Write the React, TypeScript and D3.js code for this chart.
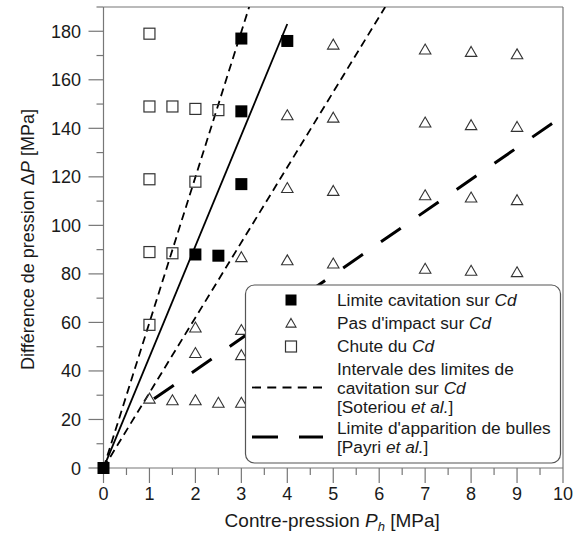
import React from "react";
import * as d3 from "d3";

// ---- data ----
const cavX = [0, 2, 2.5, 3, 3, 3, 4];
const cavY = [0, 88, 87.5, 117, 147, 177, 176];

const chuteX = [1, 1, 1.5, 2, 2.5, 1, 2, 1, 1.5, 1];
const chuteY = [179, 149, 149, 148, 147.5, 119, 118, 89, 88.5, 59];

const noImpX = [1, 1.5, 2, 2.5, 3, 2, 2, 3, 3, 3, 4, 4, 4, 5, 5, 5, 5, 7, 7, 7, 7, 8, 8, 8, 8, 9, 9, 9, 9];
const noImpY = [28.7, 28, 28, 27, 27, 47.5, 58, 46.6, 57, 87, 85.7, 115.5, 145.5, 84.4, 114.3, 144.5, 174.6, 82.2, 112.5, 142.5, 172.6, 81.4, 111.6, 141.4, 171.6, 80.8, 110.5, 140.7, 170.6];

const solidLineX = [0, 4];
const solidLineY = [0, 183];
const soteriouLowX = [0, 6.13];
const soteriouLowY = [0, 190];
const soteriouHighX = [0, 3.17];
const soteriouHighY = [0, 190];
const payriX = [1.1, 9.8];
const payriY = [28.5, 142.5];

const xTicks = [0, 1, 2, 3, 4, 5, 6, 7, 8, 9, 10];
const yTicks = [0, 20, 40, 60, 80, 100, 120, 140, 160, 180];

const W = 581;
const H = 533;
const FONT = "'Liberation Sans', Arial, sans-serif";
const AXIS = "#777";
const TXT = "#1a1a1a";

export default function App() {
  const x = d3.scaleLinear().domain([0, 10]).range([103.5, 563]);
  const y = d3.scaleLinear().domain([0, 190]).range([468, 7]);

  const line = d3
    .line<[number, number]>()
    .x((d) => x(d[0]))
    .y((d) => y(d[1]));
  const pts = (xs: number[], ys: number[]) => xs.map((v, i) => [v, ys[i]] as [number, number]);

  const xMinor = d3.range(0, 10.01, 0.5).filter((v) => Math.abs(v - Math.round(v)) > 0.01);
  const yMinor = d3.range(10, 191, 20);

  const sq = 11;
  const tri = (cx: number, cy: number, s: number) => {
    const h = s * 0.82;
    return `M${cx},${cy - h / 2 - 0.5} L${cx + s / 2},${cy + h / 2} L${cx - s / 2},${cy + h / 2} Z`;
  };

  const lx = 245.5;
  const ly = 285;
  const lw = 315;
  const lh = 178;
  const symX = 291;
  const textX = 337;

  return (
    <svg
      width={W}
      height={H}
      style={{ position: "absolute", left: 0, top: 0, background: "#fff" }}
      fontFamily={FONT}
    >
      <rect x={0} y={0} width={W} height={H} fill="#fff" />
      <defs>
        <clipPath id="plotclip">
          <rect x={x(0)} y={y(190)} width={x(10) - x(0)} height={y(0) - y(190)} />
        </clipPath>
      </defs>

      {/* frame */}
      <line x1={x(0)} x2={x(10)} y1={y(190)} y2={y(190)} stroke={AXIS} strokeWidth={1.2} />
      <line x1={x(10)} x2={x(10)} y1={y(190)} y2={y(0)} stroke={AXIS} strokeWidth={1.2} />
      <line x1={x(0)} x2={x(10)} y1={y(0)} y2={y(0)} stroke={AXIS} strokeWidth={1.2} />
      <line x1={x(0)} x2={x(0)} y1={y(190)} y2={y(0)} stroke={AXIS} strokeWidth={1.2} />

      {/* x ticks */}
      {xTicks.map((t) => (
        <g key={"xt" + t}>
          <line x1={x(t)} x2={x(t)} y1={y(0)} y2={y(0) + 15} stroke={AXIS} strokeWidth={1.2} />
          <text x={x(t)} y={500} textAnchor="middle" fontSize={18} fill={TXT}>
            {t}
          </text>
        </g>
      ))}
      {xMinor.map((t) => (
        <line key={"xm" + t} x1={x(t)} x2={x(t)} y1={y(0)} y2={y(0) + 7} stroke={AXIS} strokeWidth={1.2} />
      ))}

      {/* y ticks */}
      {yTicks.map((t) => (
        <g key={"yt" + t}>
          <line x1={x(0) - 15} x2={x(0)} y1={y(t)} y2={y(t)} stroke={AXIS} strokeWidth={1.2} />
          <text x={81} y={y(t) + 6.5} textAnchor="end" fontSize={18} fill={TXT}>
            {t}
          </text>
        </g>
      ))}
      {yMinor.map((t) => (
        <line key={"ym" + t} x1={x(0) - 7} x2={x(0)} y1={y(t)} y2={y(t)} stroke={AXIS} strokeWidth={1.2} />
      ))}

      {/* axis titles */}
      <text x={(x(0) + x(10)) / 2 - 1} y={527} textAnchor="middle" fontSize={19} fill={TXT}>
        Contre-pression <tspan fontStyle="italic">P</tspan>
        <tspan fontStyle="italic" fontSize={13} dy={4}>h</tspan>
        <tspan dy={-4}> [MPa]</tspan>
      </text>
      <text
        transform={`translate(34, ${(y(0) + y(190)) / 2 + 2}) rotate(-90)`}
        textAnchor="middle"
        fontSize={18}
        fill={TXT}
      >
        Différence de pression Δ<tspan fontStyle="italic">P</tspan> [MPa]
      </text>

      {/* lines */}
      <g clipPath="url(#plotclip)" fill="none">
        <path d={line(pts(solidLineX, solidLineY))!} stroke="#000" strokeWidth={1.8} />
        <path d={line(pts(soteriouLowX, soteriouLowY))!} stroke="#000" strokeWidth={1.8} strokeDasharray="8,5" />
        <path d={line(pts(soteriouHighX, soteriouHighY))!} stroke="#000" strokeWidth={1.8} strokeDasharray="8,5" />
        <path d={line(pts(payriX, payriY))!} stroke="#000" strokeWidth={3} strokeDasharray="24,22" />
      </g>

      {/* markers */}
      {noImpX.map((v, i) => (
        <path key={"tr" + i} d={tri(x(v), y(noImpY[i]), 11.5)} fill="none" stroke="#333" strokeWidth={1.1} />
      ))}
      {chuteX.map((v, i) => (
        <rect
          key={"cs" + i}
          x={x(v) - sq / 2}
          y={y(chuteY[i]) - sq / 2}
          width={sq}
          height={sq}
          fill="none"
          stroke="#333"
          strokeWidth={1.2}
        />
      ))}
      {cavX.map((v, i) => (
        <rect key={"cv" + i} x={x(v) - 6} y={y(cavY[i]) - 6} width={12} height={12} fill="#000" />
      ))}

      {/* legend */}
      <rect x={lx} y={ly} width={lw} height={lh} rx={9} ry={9} fill="#fff" stroke="#555" strokeWidth={1.2} />
      <rect x={symX - 5.5} y={300 - 5.5} width={11} height={11} fill="#000" />
      <path d={tri(symX, 323, 10)} fill="none" stroke="#333" strokeWidth={1.1} />
      <rect x={symX - 5.5} y={346.5 - 5.5} width={11} height={11} fill="none" stroke="#333" strokeWidth={1.2} />
      <line x1={252} x2={322} y1={387.5} y2={387.5} stroke="#000" strokeWidth={1.8} strokeDasharray="9,6.25" />
      <line x1={252} x2={323} y1={437} y2={437} stroke="#000" strokeWidth={3} strokeDasharray="26,21" />

      <g fontSize={17.3} fill={TXT}>
        <text x={textX} y={306}>
          Limite cavitation sur <tspan fontStyle="italic">Cd</tspan>
        </text>
        <text x={textX} y={329}>
          Pas d'impact sur <tspan fontStyle="italic">Cd</tspan>
        </text>
        <text x={textX} y={352}>
          Chute du <tspan fontStyle="italic">Cd</tspan>
        </text>
        <text x={textX} y={374.5}>Intervale des limites de</text>
        <text x={textX} y={393.5}>
          cavitation sur <tspan fontStyle="italic">Cd</tspan>
        </text>
        <text x={textX} y={412.5}>
          [Soteriou <tspan fontStyle="italic">et al.</tspan>]
        </text>
        <text x={textX} y={433.5}>Limite d'apparition de bulles</text>
        <text x={textX} y={452.5}>
          [Payri <tspan fontStyle="italic">et al.</tspan>]
        </text>
      </g>
    </svg>
  );
}
